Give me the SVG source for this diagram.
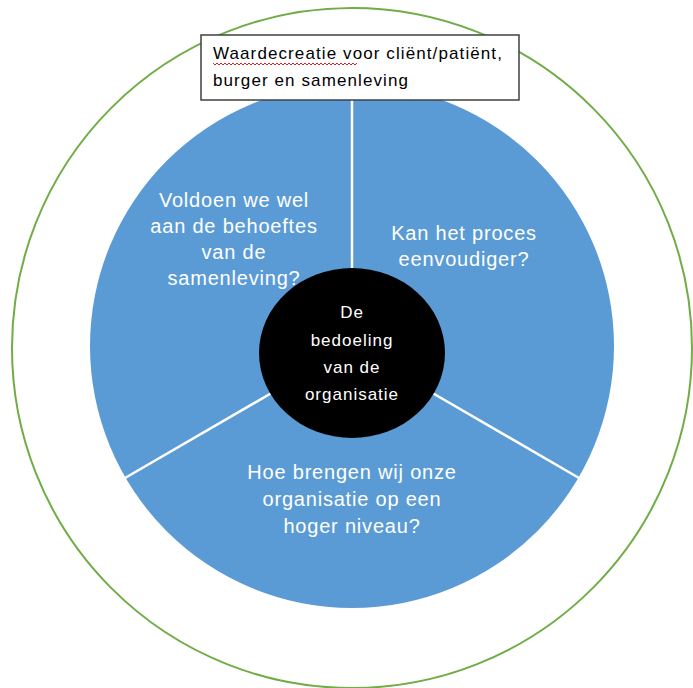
<svg xmlns="http://www.w3.org/2000/svg" width="693" height="688" viewBox="0 0 693 688">
<style>
.q{font-family:"Liberation Sans","Open Sans",sans-serif;font-size:20px;letter-spacing:0.8px;fill:#fff;text-anchor:middle}
.c{font-family:"Liberation Sans","Open Sans",sans-serif;font-size:17px;letter-spacing:1px;fill:#fff;text-anchor:middle}
.b{font-family:"Liberation Sans","Open Sans",sans-serif;font-size:17px;letter-spacing:1.1px;fill:#000}
.div{stroke:#fff;stroke-width:2.5}
</style>
<rect width="693" height="688" fill="#fff"/>
<g id="outer"><circle cx="352" cy="348" r="340" fill="none" stroke="#70AD47" stroke-width="2"/></g>
<g id="wheel"><circle cx="352" cy="346" r="262" fill="#5B9BD5"/></g>
<g id="connectors">
<line class="div" x1="352" y1="100" x2="352" y2="280"/>
<line class="div" x1="125" y1="478" x2="275" y2="391"/>
<line class="div" x1="579" y1="478" x2="429" y2="391"/>
</g>
<g id="segment-left">
<text class="q" x="234" y="207">Voldoen we wel</text>
<text class="q" x="234" y="233">aan de behoeftes</text>
<text class="q" x="234" y="259">van de</text>
<text class="q" x="234" y="285">samenleving?</text>
</g>
<g id="segment-right">
<text class="q" x="464" y="240">Kan het proces</text>
<text class="q" x="464" y="266">eenvoudiger?</text>
</g>
<g id="segment-bottom">
<text class="q" x="352" y="479">Hoe brengen wij onze</text>
<text class="q" x="352" y="506">organisatie op een</text>
<text class="q" x="352" y="533">hoger niveau?</text>
</g>
<g id="center">
<ellipse cx="352" cy="353" rx="93" ry="85" fill="#000"/>
<text class="c" x="352" y="318">De</text>
<text class="c" x="352" y="346">bedoeling</text>
<text class="c" x="352" y="373">van de</text>
<text class="c" x="352" y="400">organisatie</text>
</g>
<g id="title-box">
<rect x="201" y="35" width="318" height="65" fill="#fff" stroke="#404040" stroke-width="1.5"/>
<text class="b" x="213" y="59">Waardecreatie voor cliënt/patiënt,</text>
<text class="b" x="213" y="86">burger en samenleving</text>
<path d="M213 63 l2 2 l2 -2 l2 2 l2 -2 l2 2 l2 -2 l2 2 l2 -2 l2 2 l2 -2 l2 2 l2 -2 l2 2 l2 -2 l2 2 l2 -2 l2 2 l2 -2 l2 2 l2 -2 l2 2 l2 -2 l2 2 l2 -2 l2 2 l2 -2 l2 2 l2 -2 l2 2 l2 -2 l2 2 l2 -2 l2 2 l2 -2 l2 2 l2 -2 l2 2 l2 -2 l2 2 l2 -2 l2 2 l2 -2 l2 2 l2 -2 l2 2 l2 -2 l2 2 l2 -2 l2 2 l2 -2 l2 2 l2 -2 l2 2 l2 -2 l2 2 l2 -2 l2 2 l2 -2 l2 2 l2 -2 l2 2 l2 -2 l2 2 l2 -2 l2 2 l2 -2 l2 2 l2 -2 l2 2 l2 -2 l2 2 l2 -2" fill="none" stroke="#e02020" stroke-width="1"/>
</g>
</svg>
